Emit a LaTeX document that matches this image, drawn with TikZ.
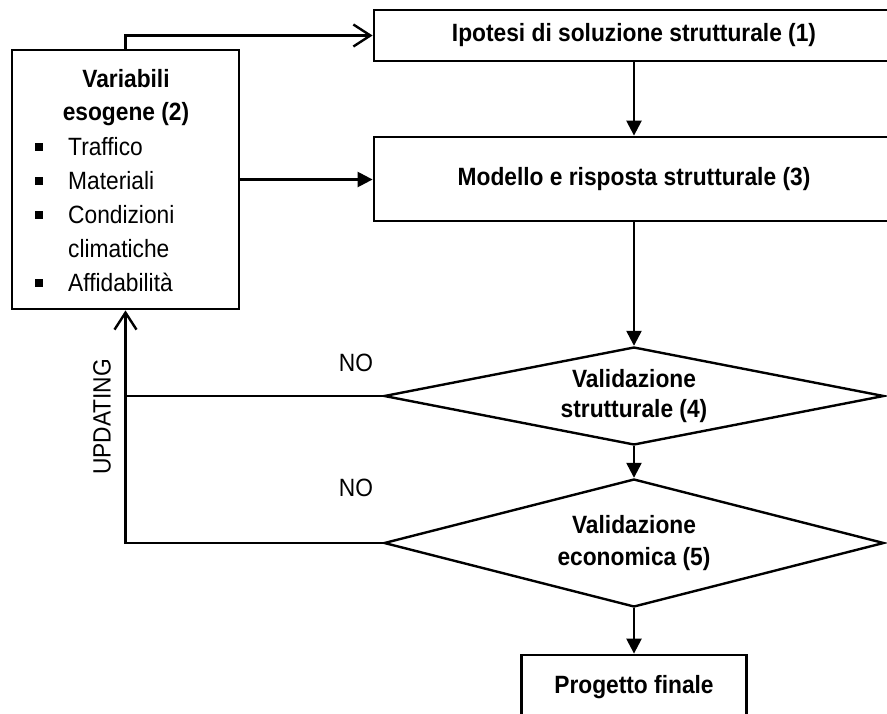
\documentclass[tikz,border=0pt]{standalone}
\usepackage{fontspec}
\setmainfont[FakeStretch=0.91]{Liberation Sans}
\usetikzlibrary{arrows.meta,shapes.geometric}
% small filled square used as a list marker
\newcommand\listsq{\llap{\rule[5pt]{7.5pt}{7.5pt}\hspace{25.5pt}}}
\begin{document}
\begin{tikzpicture}[x=1pt,y=-1pt,
  font=\fontsize{25}{34}\selectfont,
  box/.style={draw,line width=2.8pt,inner sep=0pt,font=\fontsize{25}{34}\selectfont\bfseries},
  decision/.style={draw,diamond,aspect=5,line width=2.4pt,inner sep=0pt,align=center,
    font=\fontsize{25}{31.5}\selectfont\bfseries},
  flow/.style={line width=2.4pt,-{Triangle[length=15pt,width=15pt]}},
  back/.style={line width=2.4pt,-{Straight Barb[length=17pt,width=22pt,line width=2.4pt]}},
  lbl/.style={inner sep=0pt}]
\useasboundingbox (0,0) rectangle (887,713);
\fill[white] (0,0) rectangle (887,713);

% process boxes
\node[box,minimum width=520pt,minimum height=51pt] (ipo) at (634,35.5) {Ipotesi di soluzione strutturale (1)};
\node[box,minimum width=520pt,minimum height=84pt] (mod) at (634,179) {\raisebox{-3pt}{Modello e risposta strutturale (3)}};
\node[box,minimum width=227pt,minimum height=259pt] (var) at (125.5,179.5) {};
\node[box,minimum width=225pt,minimum height=64pt] (fin) at (634,687) {Progetto finale};

% contents of the exogenous-variables box
\node[lbl,align=center,font=\fontsize{25}{33}\selectfont\bfseries] (vartitle) at (126,98) {Variabili\\esogene (2)};
\node[lbl,align=left,anchor=west] (varlist) at (68,215)
  {\listsq Traffico\\\listsq Materiali\\\listsq Condizioni\\climatiche\\\listsq Affidabilità};

% decisions
\node[decision,minimum width=500pt,minimum height=98pt] (d4) at (634,396) {\raisebox{-2pt}{Validazione}\\strutturale (4)};
\node[decision,minimum width=500pt,minimum height=128pt] (d5) at (634,543) {Validazione\\economica (5)};

% labels of the feedback loop
\node[lbl] (no1) at (356,363) {NO};
\node[lbl] (no2) at (356,488) {NO};
\node[lbl,rotate=90] (upd) at (102,417) {UPDATING};

% connectors
\draw[back] (var.north) |- (ipo.west);
\draw[flow] (var.east) -- (var.east -| mod.west);
\draw[flow] (ipo.south) -- (mod.north);
\draw[flow] (mod.south) -- (d4.north);
\draw[flow] (d4.south) -- (d5.north);
\draw[flow] (d5.south) -- (fin.north);
\draw[back] (d5.west) -| (var.south);
\draw[line width=2.4pt] (d4.west) -- (d4.west -| var.south);
\end{tikzpicture}
\end{document}
